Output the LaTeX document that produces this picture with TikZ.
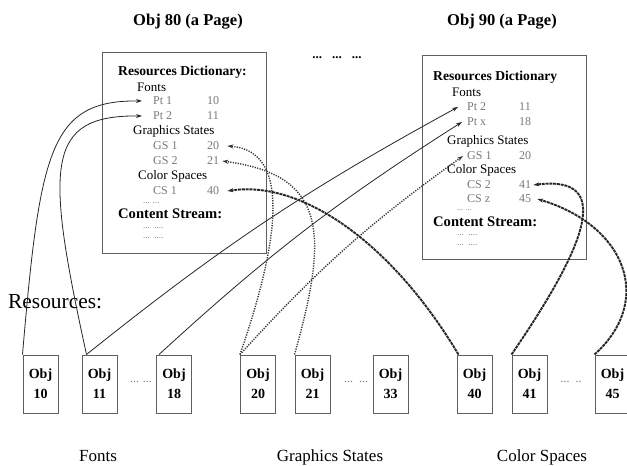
\documentclass[tikz,border=0pt]{standalone}
\usepackage{fontspec}
\setmainfont{Liberation Serif}
\usetikzlibrary{arrows.meta}
\definecolor{boxgray}{RGB}{95,95,95}
\definecolor{entgray}{RGB}{120,120,120}
\tikzset{
  pagebox/.style={draw=boxgray, line width=1pt, inner sep=0pt, minimum width=164pt},
  objbox/.style={draw=boxgray, line width=1pt, inner sep=0pt, minimum width=35pt, minimum height=58pt,
    align=center, font=\bfseries\fontsize{14}{20}\selectfont},
  ttl/.style={inner sep=0pt, font=\bfseries\fontsize{16.5}{18}\selectfont},
  hdr/.style={anchor=west, inner sep=0pt, font=\bfseries\fontsize{13.6}{16}\selectfont},
  chdr/.style={anchor=west, inner sep=0pt, font=\bfseries\fontsize{14.6}{16}\selectfont},
  lbl/.style={anchor=west, inner sep=0pt, font=\fontsize{13}{15}\selectfont},
  ent/.style={anchor=west, inner sep=0pt, text=entgray, font=\fontsize{12}{14}\selectfont},
  sdots/.style={anchor=west, inner sep=0pt, text=entgray, font=\fontsize{9}{10}\selectfont},
  mdots/.style={inner sep=0pt, text=entgray, font=\fontsize{12}{14}\selectfont},
  captxt/.style={inner sep=0pt, anchor=base, font=\fontsize{17}{19}\selectfont},
  arrtip/.style={-{Stealth[length=6pt,width=4pt]}},
  solidlink/.style={arrtip, line width=0.8pt, draw=black!85},
  dotlink/.style={arrtip, line width=1.4pt, dash pattern=on 1.2pt off 1.3pt, draw=black!80},
  thicklink/.style={arrtip, line width=1.9pt, dash pattern=on 3pt off 0.8pt, draw=black!85}
}
\begin{document}
\begin{tikzpicture}[x=1pt,y=-1pt]
\useasboundingbox (0,0) rectangle (627,466);

% titles
\node[ttl] (ltitle) at (188,22) {Obj 80 (a Page)};
\node[ttl] (rtitle) at (502,22) {Obj 90 (a Page)};
\node[inner sep=0pt, font=\bfseries\fontsize{13}{14}\selectfont] (topdots) at (337,58) {...\hspace{10pt}...\hspace{10pt}...};

% page boxes
\node[pagebox, minimum height=201pt] (lpage) at (184,152.5) {};
\node[pagebox, minimum height=204pt] (rpage) at (504,157) {};

% left page content
\node[hdr] (lrd) at (118,72) {Resources Dictionary:};
\node[lbl] (lfonts) at (137,87) {Fonts};
\node[ent] (lpt1) at (153,101) {Pt 1};
\node[ent] (l10) at (207,101) {10};
\node[ent] (lpt2) at (153,116) {Pt 2};
\node[ent] (l11) at (207,116) {11};
\node[lbl] (lgsl) at (133,131) {Graphics States};
\node[ent] (lgs1) at (153,146) {GS 1};
\node[ent] (l20) at (207,146) {20};
\node[ent] (lgs2) at (153,161) {GS 2};
\node[ent] (l21) at (207,161) {21};
\node[lbl] (lcsl) at (138,176) {Color Spaces};
\node[ent] (lcs1) at (153,191) {CS 1};
\node[ent] (l40) at (207,191) {40};
\node[sdots] (ldots1) at (143,203) {... ...};
\node[chdr] (lcs) at (118,214) {Content Stream:};
\node[sdots] (ldots2) at (143,228) {...\ \ ....};
\node[sdots] (ldots3) at (143,238) {...\ \ ....};

% right page content
\node[hdr] (rrd) at (433,77) {Resources Dictionary};
\node[lbl] (rfonts) at (452,92) {Fonts};
\node[ent] (rpt2) at (467,107) {Pt 2};
\node[ent] (r11) at (519,107) {11};
\node[ent] (rptx) at (467,122) {Pt x};
\node[ent] (r18) at (519,122) {18};
\node[lbl] (rgsl) at (447,141) {Graphics States};
\node[ent] (rgs1) at (467,156) {GS 1};
\node[ent] (r20) at (519,156) {20};
\node[lbl] (rcsl) at (447,170) {Color Spaces};
\node[ent] (rcs2) at (467,185) {CS 2};
\node[ent] (r41) at (519,185) {41};
\node[ent] (rcsz) at (467,199) {CS z};
\node[ent] (r45) at (519,199) {45};
\node[sdots, font=\fontsize{8}{9}\selectfont] (rdots1) at (457,210) {... ...};
\node[chdr] (rcs) at (433,222) {Content Stream:};
\node[sdots] (rdots2) at (457,235) {...\ \ ....};
\node[sdots] (rdots3) at (457,245) {...\ \ ....};

% resources label
\node[anchor=west, inner sep=0pt, font=\fontsize{21.4}{24}\selectfont] (reslbl) at (8,302) {Resources:};

% object boxes
\node[objbox] (o10) at (40.5,384) {Obj\\10};
\node[objbox] (o11) at (99.5,384) {Obj\\11};
\node[objbox] (o18) at (174,384) {Obj\\18};
\node[objbox] (o20) at (258,384) {Obj\\20};
\node[objbox] (o21) at (312.5,384) {Obj\\21};
\node[objbox] (o33) at (390.5,384) {Obj\\33};
\node[objbox] (o40) at (474.5,384) {Obj\\40};
\node[objbox] (o41) at (529.5,384) {Obj\\41};
\node[objbox] (o45) at (612.5,384) {Obj\\45};

\node[mdots] (d1) at (141,382) {... ...};
\node[mdots] (d2) at (356,382) {...\ \ ...};
\node[mdots] (d3) at (571,382) {...\ \ ..};

% captions
\node[captxt] (cfonts) at (98,461) {Fonts};
\node[captxt] (cgs) at (330,461) {Graphics States};
\node[captxt] (ccs) at (542,461) {Color Spaces};

% connectors: fonts
\draw[solidlink] (o10.north west) .. controls (40,150) and (50,100) .. ([xshift=-11pt]lpt1.west);
\draw[solidlink] ([xshift=5pt]o11.north west) .. controls (45,165) and (45,115) .. ([xshift=-11pt]lpt2.west);
\draw[solidlink] ([xshift=5pt]o11.north west) to[bend left=5] ([xshift=-9pt]rpt2.west);
\draw[solidlink] ([xshift=3pt]o18.north west) to[bend left=5] ([xshift=-5pt]rptx.west);

% connectors: graphics states
\draw[dotlink] (o20.north west) .. controls (290,210) and (280,150) .. ([xshift=8pt]l20.east);
\draw[dotlink] (o21.north west) .. controls (330,230) and (325,175) .. ([xshift=3pt]l21.east);
\draw[dotlink] (o20.north west) to[bend left=6] ([xshift=-4pt]rgs1.west);

% connectors: color spaces
\draw[thicklink] ([xshift=2pt]o40.north west) .. controls (390,240) and (300,180) .. ([xshift=8pt]l40.east);
\draw[thicklink] (o41.north west) .. controls (590,240) and (612,175) .. ([xshift=2pt]r41.east);
\draw[thicklink] (o45.north west) .. controls (655,300) and (625,225) .. ([xshift=6pt]r45.east);
\end{tikzpicture}
\end{document}
